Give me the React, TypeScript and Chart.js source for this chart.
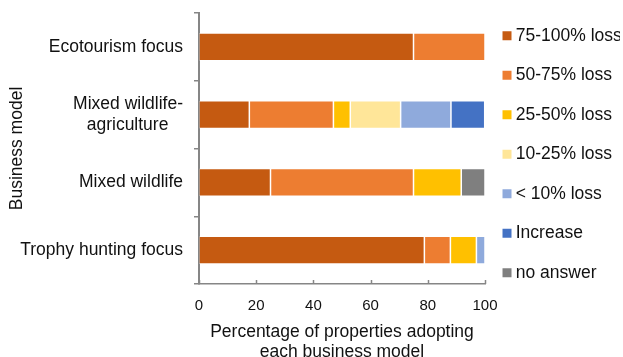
import React, { useEffect, useRef } from "react";
import { Chart, registerables } from "chart.js";

Chart.register(...registerables);

const categories: (string | string[])[] = [
  "Ecotourism focus",
  ["Mixed wildlife-", "agriculture   "],
  "Mixed wildlife",
  "Trophy hunting focus",
];

const seriesNames = [
  "75-100% loss",
  "50-75% loss",
  "25-50% loss",
  "10-25% loss",
  "< 10% loss",
  "Increase",
  "no answer",
];

const loss75to100 = [75, 17.6, 25, 78.8];
const loss50to75 = [25, 29.4, 50, 9.1];
const loss25to50 = [null, 5.9, 16.7, 9.1];
const loss10to25 = [null, 17.6, null, null];
const lossUnder10 = [null, 17.6, null, 3.0];
const increase = [null, 11.8, null, null];
const noAnswer = [null, null, 8.3, null];

const seriesValues = [loss75to100, loss50to75, loss25to50, loss10to25, lossUnder10, increase, noAnswer];
const seriesColors = ["#C55A11", "#ED7D31", "#FFC000", "#FFE699", "#8FAADC", "#4472C4", "#7F7F7F"];

const xTicks = [0, 20, 40, 60, 80, 100];

const FONT = "'Liberation Sans', Arial, sans-serif";
const TEXT = "#111111";
const AXIS = "#868686";

const innerTicks = {
  id: "innerTicks",
  afterDraw(chart: any) {
    const x = chart.scales.x;
    const ctx = chart.ctx;
    const bottom = chart.chartArea.bottom;
    ctx.save();
    ctx.strokeStyle = AXIS;
    ctx.lineWidth = 1.5;
    xTicks.forEach((v) => {
      const px = Math.round(x.getPixelForValue(v)) + 0.5;
      ctx.beginPath();
      ctx.moveTo(px, bottom);
      ctx.lineTo(px, bottom - 4);
      ctx.stroke();
    });
    ctx.restore();
  },
};

export default function App() {
  const ref = useRef<HTMLCanvasElement | null>(null);
  useEffect(() => {
    document.body.style.margin = "0";
    const canvas = ref.current;
    if (!canvas) return;
    const chart = new Chart(canvas, {
      type: "bar",
      data: {
        labels: categories,
        datasets: seriesNames.map((name, i) => ({
          label: name,
          data: seriesValues[i],
          backgroundColor: seriesColors[i],
          borderColor: "rgba(255,255,255,0.35)",
          borderWidth: 0.75,
          borderSkipped: false,
          barPercentage: 0.41,
          categoryPercentage: 1,
          pointStyle: "rect",
        })),
      },
      options: {
        indexAxis: "y",
        animation: false,
        responsive: false,
        maintainAspectRatio: false,
        layout: { padding: { left: 3, top: 5, right: 3, bottom: 0 } },
        plugins: {
          tooltip: { enabled: false },
          legend: {
            position: "right",
            align: "start",
            maxWidth: 135,
            labels: {
              font: { family: FONT, size: 17.5 },
              color: TEXT,
              usePointStyle: true,
              boxWidth: 0.01,
              boxHeight: 9,
              padding: 22,
              generateLabels: (chart: any) =>
                chart.data.datasets.map((ds: any, i: number) => ({
                  text: ds.label,
                  fillStyle: seriesColors[i],
                  strokeStyle: seriesColors[i],
                  lineWidth: 0,
                  pointStyle: "rect",
                  fontColor: TEXT,
                  hidden: false,
                  datasetIndex: i,
                })),
            },
          },
        },
        scales: {
          x: {
            stacked: true,
            min: 0,
            max: 100,
            afterBuildTicks: (scale: any) => {
              scale.ticks = xTicks.map((v) => ({ value: v }));
            },
            afterFit: (scale: any) => {
              scale.height = 73;
            },
            grid: { display: false, drawTicks: false },
            border: { display: true, color: AXIS, width: 1.5 },
            ticks: { font: { family: FONT, size: 15 }, color: TEXT, padding: 13, maxRotation: 0 },
            title: {
              display: true,
              text: ["Percentage of properties adopting", "each business model"],
              font: { family: FONT, size: 17.5, lineHeight: 1.14 },
              color: TEXT,
              padding: { top: 6, bottom: -5 },
            },
          },
          y: {
            stacked: true,
            afterFit: (scale: any) => {
              scale.width = 196;
              scale.paddingTop = 13;
              scale.paddingBottom = 0;
            },
            grid: {
              display: true,
              drawOnChartArea: false,
              drawTicks: true,
              tickLength: 5,
              offset: true,
              color: AXIS,
              lineWidth: 1.5,
            },
            border: { display: true, color: AXIS, width: 2 },
            ticks: {
              font: { family: FONT, size: 17.5, lineHeight: 1.15 },
              color: TEXT,
              padding: 11,
            },
            title: {
              display: true,
              text: "Business model",
              font: { family: FONT, size: 17.5, lineHeight: 1 },
              color: TEXT,
              padding: { top: 5, bottom: -5 },
            },
          },
        },
      },
      plugins: [innerTicks],
    });
    return () => chart.destroy();
  }, []);
  return (
    <div style={{ width: 623, height: 357 }}>
      <canvas ref={ref} width={623} height={357} style={{ display: "block" }} />
    </div>
  );
}
